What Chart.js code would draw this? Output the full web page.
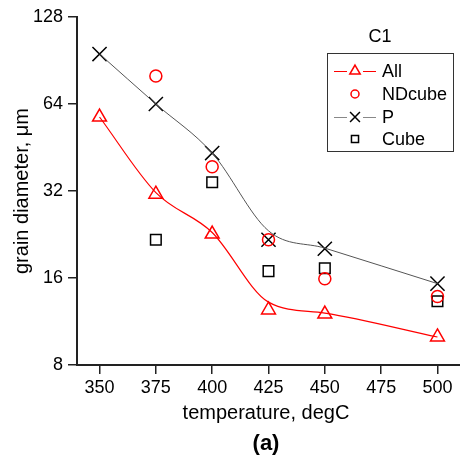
<!DOCTYPE html>
<html>
<head>
<meta charset="utf-8">
<script src="https://cdn.jsdelivr.net/npm/chart.js@4"></script>
<style>
  html, body { margin: 0; padding: 0; background: #fff; }
  #wrap { width: 460px; height: 464px; }
</style>
</head>
<body>
<div id="wrap"><canvas id="myChart" width="460" height="464"></canvas></div>
<script>
// values
const temps = [350, 375, 400, 425, 450, 500];
const allVals = [57.7, 31.2, 22.7, 12.4, 12.0, 10.0];
const allCurve = [57.7, 31.6, 23.0, 13.2, 12.1, 10.0];
const pVals = [95.3, 64, 43.3, 21.7, 20.2, 15.3];
const pCurve = [95.3, 64, 43.3, 23.3, 20.3, 15.3];
const ndTemps = [375, 400, 425, 450, 500];
const ndVals = [80, 38.8, 21.7, 15.9, 13.8];
const cubeTemps = [375, 400, 425, 450, 500];
const cubeVals = [21.7, 34.3, 16.9, 17.3, 13.3];
const xTicks = [350, 375, 400, 425, 450, 475, 500];
const yTicks = [8, 16, 32, 64, 128];

const FONT = 'Arial, "Liberation Sans", sans-serif';
const RED = '#ff0000';
const GREY = '#555555';

const pts = (xs, ys) => xs.map((x, i) => ({ x: x, y: ys[i] }));

// legend + titles drawn by hand
const decor = {
    id: 'decor',
    afterDraw(chart) {
        const ctx = chart.ctx;
        const ca = chart.chartArea;
        const drawPoint = Chart.helpers.drawPoint;
        ctx.save();
        ctx.fillStyle = '#000';
        ctx.textAlign = 'center';
        ctx.textBaseline = 'middle';
        ctx.font = '20px ' + FONT;
        ctx.fillText('temperature, degC', 266, 413);
        ctx.font = 'bold 22px ' + FONT;
        ctx.fillText('(a)', 266, 444);
        ctx.save();
        ctx.translate(22, (ca.top + ca.bottom) / 2);
        ctx.rotate(-Math.PI / 2);
        ctx.font = '20px ' + FONT;
        ctx.fillText('grain diameter, \u03bcm', 0, 0);
        ctx.restore();

        ctx.font = '18px ' + FONT;
        ctx.fillText('C1', 380, 37);

        // legend box
        ctx.strokeStyle = '#333';
        ctx.lineWidth = 1;
        ctx.strokeRect(327.5, 53.5, 126, 98);
        const items = [
            { label: 'All', color: RED, line: RED, style: 'triangle', r: 6 },
            { label: 'NDcube', color: RED, line: null, style: 'circle', r: 4 },
            { label: 'P', color: '#000', line: '#888', style: 'crossRot', r: 7 },
            { label: 'Cube', color: '#000', line: null, style: 'rect', r: 5 }
        ];
        const ys = [71, 94, 117, 139];
        ctx.textAlign = 'left';
        items.forEach((it, i) => {
            const y = ys[i];
            if (it.line) {
                ctx.strokeStyle = it.line;
                ctx.lineWidth = 1;
                ctx.beginPath();
                ctx.moveTo(334, y + 0.5);
                ctx.lineTo(347, y + 0.5);
                ctx.moveTo(363, y + 0.5);
                ctx.lineTo(376, y + 0.5);
                ctx.stroke();
            }
            ctx.strokeStyle = it.color;
            ctx.fillStyle = '#fff';
            ctx.lineWidth = 1.5;
            drawPoint(ctx, { pointStyle: it.style, radius: it.r, rotation: 0, borderWidth: 1.5 }, 355, y);
            ctx.fillStyle = '#000';
            ctx.fillText(it.label, 382, y + 1);
        });
        ctx.restore();
    }
};

const ctx = document.getElementById('myChart').getContext('2d');
new Chart(ctx, {
    type: 'scatter',
    data: {
        datasets: [{
            label: 'All curve',
            data: pts(temps, allCurve),
            showLine: true,
            cubicInterpolationMode: 'monotone',
            borderColor: RED,
            borderWidth: 1.2,
            pointRadius: 0
        }, {
            label: 'P curve',
            data: pts(temps, pCurve),
            showLine: true,
            cubicInterpolationMode: 'monotone',
            borderColor: GREY,
            borderWidth: 1,
            pointRadius: 0
        }, {
            label: 'All',
            data: pts(temps, allVals),
            pointStyle: 'triangle',
            pointRadius: 8,
            borderColor: RED,
            backgroundColor: 'rgba(0,0,0,0)',
            borderWidth: 1.5
        }, {
            label: 'NDcube',
            data: pts(ndTemps, ndVals),
            pointStyle: 'circle',
            pointRadius: 6,
            borderColor: RED,
            backgroundColor: 'rgba(0,0,0,0)',
            borderWidth: 1.5
        }, {
            label: 'P',
            data: pts(temps, pVals),
            pointStyle: 'crossRot',
            pointRadius: 10,
            borderColor: '#000',
            borderWidth: 1.5
        }, {
            label: 'Cube',
            data: pts(cubeTemps, cubeVals),
            pointStyle: 'rect',
            pointRadius: 7.5,
            borderColor: '#000',
            backgroundColor: 'rgba(0,0,0,0)',
            borderWidth: 1.5
        }]
    },
    options: {
        responsive: false,
        animation: false,
        layout: { autoPadding: false, padding: { top: 17, right: 0, left: 0, bottom: 0 } },
        plugins: {
            legend: { display: false },
            tooltip: { enabled: false }
        },
        scales: {
            x: {
                type: 'linear',
                min: 340,
                max: 510,
                afterBuildTicks: s => { s.ticks = xTicks.map(v => ({ value: v })); },
                afterFit: s => { s.height = 99; s.paddingLeft = 0; s.paddingRight = 0; },
                grid: { drawOnChartArea: false, drawTicks: true, tickLength: 9, tickColor: '#222', lineWidth: 1.5 },
                border: { display: true, color: '#222', width: 2 },
                ticks: { color: '#000', font: { family: FONT, size: 18 }, padding: 3, maxRotation: 0 }
            },
            y: {
                type: 'logarithmic',
                min: 8,
                max: 128,
                afterBuildTicks: s => { s.ticks = yTicks.map(v => ({ value: v })); },
                afterFit: s => { s.width = 77; s.paddingTop = 0; s.paddingBottom = 0; },
                grid: { drawOnChartArea: false, drawTicks: true, tickLength: 9, tickColor: '#222', lineWidth: 1.5 },
                border: { display: true, color: '#222', width: 2 },
                ticks: { color: '#000', font: { family: FONT, size: 18 }, padding: 5, callback: v => String(v) }
            }
        }
    },
    plugins: [decor]
});
</script>
</body>
</html>
